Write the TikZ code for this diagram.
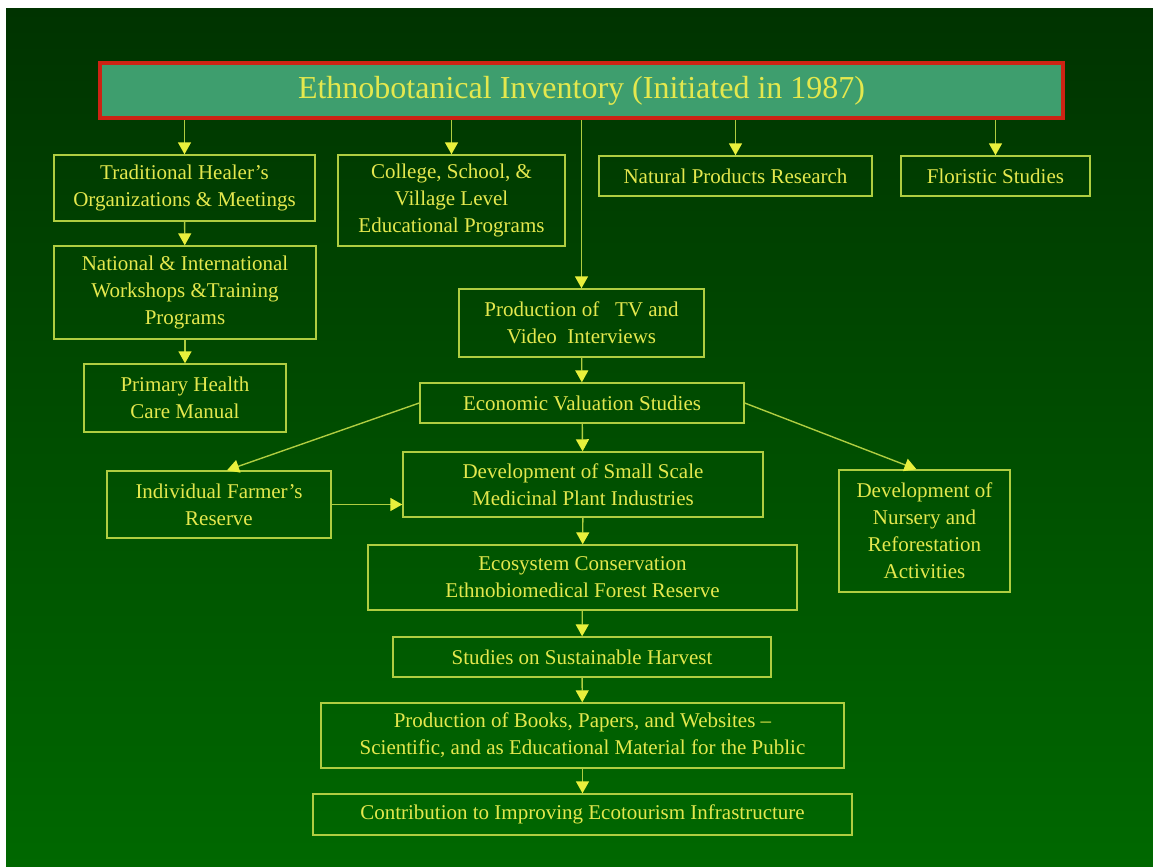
\documentclass[tikz,border=0pt]{standalone}
\usepackage{fontspec}
\setmainfont{Liberation Serif}
\usetikzlibrary{arrows.meta}
\definecolor{bgtop}{RGB}{0,51,0}
\definecolor{bgbot}{RGB}{0,104,0}
\definecolor{boxline}{RGB}{175,205,65}
\definecolor{boxtext}{RGB}{228,232,78}
\definecolor{tipcol}{RGB}{232,240,60}
\definecolor{tealfill}{RGB}{62,158,110}
\definecolor{redline}{RGB}{205,35,20}
\begin{document}
\begin{tikzpicture}[x=0.5pt, y=-0.5pt,
    item/.style={draw=boxline, line width=0.7pt, text=boxtext, align=center, inner sep=0pt,
        font=\fontsize{10.5}{13.5}\selectfont, minimum width=#1},
    item/.default=100,
    head/.style={draw=redline, line width=2pt, fill=tealfill, text=boxtext, inner sep=0pt,
        font=\fontsize{16}{19}\selectfont},
    link/.style={draw=boxline, line width=0.7pt, -{Triangle[width=6.5pt, length=6pt, color=tipcol, fill=tipcol]}}
]
    \useasboundingbox (0,0) rectangle (1153,867);
    \fill[white] (0,0) rectangle (1153,867);
    \shade[top color=bgtop, bottom color=bgbot] (6,8) rectangle (1153,867);

    % top
    \node[head, minimum width=481.5pt, minimum height=27.5pt] (inv) at (581.5,90.5) {Ethnobotanical Inventory (Initiated in 1987)};

    % first row
    \node[item=130.5pt, minimum height=33pt] (healer) at (184.5,188) {Traditional Healer's\\Organizations \& Meetings};
    \node[item=113.5pt, minimum height=45.5pt] (school) at (451.5,200.5) {College, School, \&\\Village Level\\Educational Programs};
    \node[item=136.5pt, minimum height=20pt] (natural) at (735.5,176) {Natural Products Research};
    \node[item=94.5pt, minimum height=20pt] (flora) at (995.5,176) {Floristic Studies};

    % left column
    \node[item=131pt, minimum height=46.5pt] (workshop) at (185,292.5) {National \& International\\Workshops \&Training\\Programs};
    \node[item=101pt, minimum height=34pt] (manual) at (185,398) {Primary Health\\Care Manual};

    % middle column
    \node[item=122.5pt, minimum height=34pt] (video) at (581.5,323) {Production of \ \ TV and\\Video \ Interviews};
    \node[item=162pt, minimum height=20pt] (econ) at (582,403) {Economic Valuation Studies};
    \node[item=112pt, minimum height=33.5pt] (farmer) at (219,504.5) {Individual Farmer's\\Reserve};
    \node[item=180pt, minimum height=32.5pt] (industry) at (583,484.5) {Development of Small Scale\\Medicinal Plant Industries};
    \node[item=85.5pt, minimum height=61pt] (nursery) at (924.5,531) {Development of\\Nursery and\\Reforestation\\Activities};
    \node[item=214.5pt, minimum height=32.5pt] (eco) at (582.5,577.5) {Ecosystem Conservation\\Ethnobiomedical Forest Reserve};
    \node[item=189pt, minimum height=20pt] (harvest) at (582,657) {Studies on Sustainable Harvest};
    \node[item=261.5pt, minimum height=32.5pt] (books) at (582.5,735.5) {Production of Books, Papers, and Websites --\\Scientific, and as Educational Material for the Public};
    \node[item=269.5pt, minimum height=20.5pt] (tour) at (582.5,814.5) {Contribution to Improving Ecotourism Infrastructure};

    % from the inventory
    \draw[link] (healer.north |- inv.south) -- (healer.north);
    \draw[link] (school.north |- inv.south) -- (school.north);
    \draw[link] (natural.north |- inv.south) -- (natural.north);
    \draw[link] (flora.north |- inv.south) -- (flora.north);
    \draw[link] (video.north |- inv.south) -- (video.north);

    % left chain
    \draw[link] (healer) -- (workshop);
    \draw[link] (workshop) -- (manual);

    % main chain
    \draw[link] (video) -- (econ);
    \draw[link] (econ) -- (industry);
    \draw[link] (industry) -- (eco);
    \draw[link] (eco) -- (harvest);
    \draw[link] (harvest) -- (books);
    \draw[link] (books) -- (tour);

    % side branches
    \draw[link] (econ.west) -- ([xshift=4pt]farmer.north);
    \draw[link] (econ.east) -- ([xshift=-4pt]nursery.north);
    \draw[link] (farmer.east) -- (farmer.east -| industry.west);
\end{tikzpicture}
\end{document}
